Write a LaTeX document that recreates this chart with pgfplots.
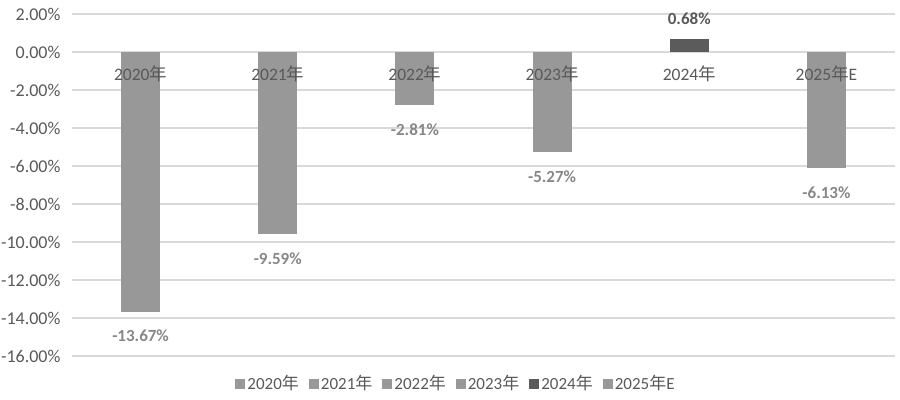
\documentclass[border=0pt]{standalone}
\usepackage{fontspec}
\setmainfont{Carlito}
\newfontfamily\cjk{Noto Sans CJK SC}
\usepackage{pgfplots}
\pgfplotsset{compat=1.18}
\definecolor{barg}{HTML}{989898}
\definecolor{bard}{HTML}{5B5B5B}
\definecolor{txt}{HTML}{595959}
\definecolor{lab}{HTML}{878787}
\definecolor{gridc}{HTML}{D9D9D9}
\newcommand{\nian}{{\cjk 年}}
\pgfplotsset{
  mybar/.style={ybar, bar width=39pt, bar shift=0pt, draw=none, fill=#1,
    nodes near coords={\pgfmathprintnumber[fixed,fixed zerofill,precision=2]{\pgfplotspointmeta}\%},
    nodes near coords align={vertical},
    every node near coord/.append style={font=\bfseries\fontsize{17}{20}\selectfont, text=lab, inner ysep=14pt, inner xsep=0pt}},
  negbar/.style={mybar=barg, every node near coord/.append style={yshift=-4pt}},
}
\begin{document}
\begin{tikzpicture}
\begin{axis}[
  scale only axis, width=823pt, height=342pt,
  xmin=-0.5, xmax=5.5, ymin=-16, ymax=2,
  ytick={-16,-14,...,2},
  xtick=\empty,
  /pgf/number format/assume math mode=true,
  yticklabel={\pgfmathprintnumber[fixed,fixed zerofill,precision=2]{\tick}\%},
  yticklabel style={font=\fontsize{18}{21}\selectfont, text=txt, xshift=-8pt},
  axis line style={draw=none},
  major tick length=0pt,
  ymajorgrids, grid style={gridc, line width=1.2pt},
  legend style={at={(0.4666,0)}, anchor=center, yshift=-27.5pt, draw=none, fill=none,
    legend columns=6, font=\fontsize{17}{20}\selectfont, text=txt,
    /tikz/every even column/.append style={column sep=8pt}},
  legend image code/.code={\fill[#1] (0pt,-5pt) rectangle (10pt,5pt);},
]
\addplot[negbar] coordinates {(0,-13.67)};
\addplot[negbar] coordinates {(1,-9.59)};
\addplot[negbar] coordinates {(2,-2.81)};
\addplot[negbar] coordinates {(3,-5.27)};
\addplot[mybar=bard, every node near coord/.append style={text=txt}] coordinates {(4,0.68)};
\addplot[negbar] coordinates {(5,-6.13)};
\legend{2020\nian, 2021\nian, 2022\nian, 2023\nian, 2024\nian, 2025\nian E}
\foreach \i/\l in {0/2020,1/2021,2/2022,3/2023,4/2024} {
  \edef\temp{\noexpand\node[font=\noexpand\fontsize{17.5}{20}\noexpand\selectfont, text=txt, yshift=-22pt] at (axis cs:\i,0) {\l\noexpand\nian};}
  \temp
}
\node[font=\fontsize{17.5}{20}\selectfont, text=txt, yshift=-22pt] at (axis cs:5,0) {2025\nian E};
\end{axis}
\pgfresetboundingbox
\useasboundingbox ([shift={(-72pt,-43pt)}]current axis.south west) rectangle ([shift={(5pt,14pt)}]current axis.north east);
\end{tikzpicture}
\end{document}
